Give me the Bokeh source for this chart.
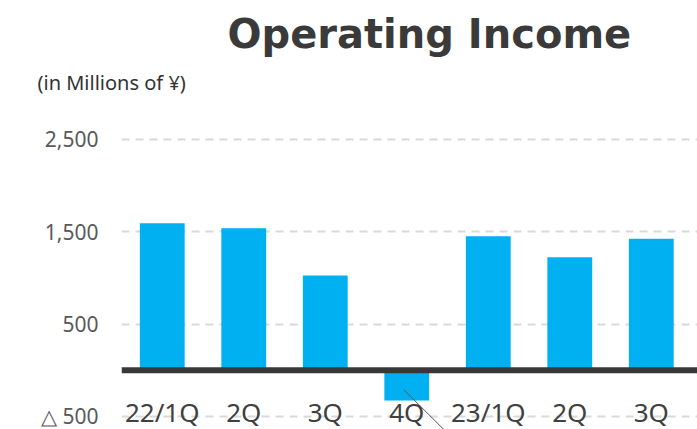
from bokeh.plotting import figure
from bokeh.models import ColumnDataSource, Range1d, FixedTicker, Span, Title
from bokeh.core.properties import value
from bokeh.embed import file_html
from bokeh.resources import INLINE

categories = ["22/1Q", "2Q", "3Q", "4Q", "23/1Q", "2Q", "3Q"]
income = [1593, 1539, 1027, -327, 1452, 1225, 1424]
y_ticks = [-500, 500, 1500, 2500]
y_tick_labels = ["△ 500", "500", "1,500", "2,500"]

xs = list(range(len(categories)))
src = ColumnDataSource(dict(x=xs, top=income, cat=categories,
                            ylab=[y_ticks[0]] * len(categories)))

p = figure(width=697, height=429, output_backend="svg", toolbar_location=None,
           x_axis_location=None, x_range=Range1d(-0.5, 6.567),
           y_range=Range1d(-641, 2922),
           min_border_left=121, min_border_right=0, min_border_top=100, min_border_bottom=0)
p.outline_line_color = None
p.background_fill_color = "white"
p.border_fill_color = "white"

p.xgrid.visible = False
p.ygrid.ticker = FixedTicker(ticks=y_ticks)
p.ygrid.grid_line_color = "#d9d9d9"
p.ygrid.grid_line_width = 2
p.ygrid.grid_line_dash = "8 6"

ax = p.yaxis[0]
ax.ticker = FixedTicker(ticks=y_ticks)
ax.major_label_overrides = {t: l for t, l in zip(y_ticks, y_tick_labels)}
ax.axis_line_color = None
ax.major_tick_line_color = None
ax.minor_tick_line_color = None
ax.major_tick_out = 0
ax.major_tick_in = 0
ax.major_label_standoff = 23
ax.major_label_text_font = "Noto Sans"
ax.major_label_text_font_size = "21px"
ax.major_label_text_color = "#595959"

p.vbar(x="x", top="top", bottom=0, width=0.55, source=src,
       fill_color="#00B0F0", line_color=None)

p.add_layout(Span(location=0, dimension="width", line_color="#383838", line_width=6))

p.text(x="x", y="ylab", text="cat", source=src, text_align="center",
       text_baseline="middle", y_offset=-4,
       text_font=value("Noto Sans"), text_font_size="26px", text_color="#404040")

# leader line from the 4Q bar
p.segment(x0=[2.964], y0=[-211], x1=[3.522], y1=[-700], line_color="#595959", line_width=1)

p.add_layout(Title(text="(in Millions of ¥)", align="left", offset=-84,
                   text_font="Noto Sans", text_font_style="normal",
                   text_font_size="20px", text_color="#333333"), "above")
p.add_layout(Title(text="Operating Income", align="left", offset=106,
                   text_font="DejaVu Sans", text_font_style="bold",
                   text_font_size="40px", text_color="#3a3a3a"), "above")

open("out.html", "w").write(file_html(p, INLINE))
